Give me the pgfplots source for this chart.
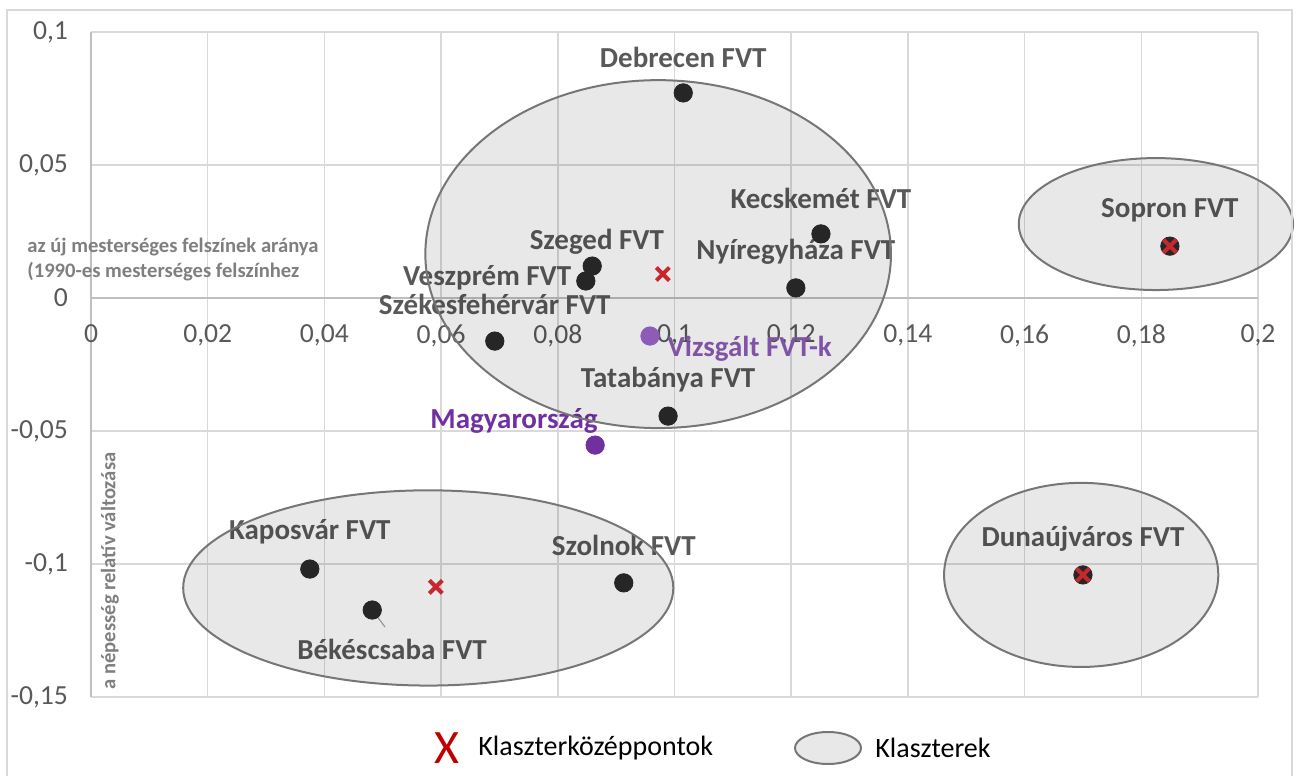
\documentclass[border=0pt]{standalone}
\usepackage{pgfplots}
\pgfplotsset{compat=1.18}
\usepackage{fontspec}
\setmainfont{Carlito}
\definecolor{gridcol}{HTML}{D9D9D9}
\definecolor{axcol}{HTML}{BFBFBF}
\definecolor{tickcol}{HTML}{595959}
\definecolor{lblcol}{HTML}{595959}
\definecolor{ptcol}{HTML}{262626}
\definecolor{redx}{HTML}{C8282D}
\definecolor{legred}{HTML}{C00000}
\definecolor{purL}{HTML}{8E5CB8}
\definecolor{purD}{HTML}{7030A0}
\definecolor{titcol}{HTML}{7F7F7F}
\definecolor{ellcol}{HTML}{767676}
\tikzset{
  lbl/.style={font=\fontsize{14.5}{17}\selectfont\bfseries, text=lblcol},
  ell/.style={draw=ellcol, line width=1pt, fill=black, fill opacity=0.09},
}
\begin{document}
\begin{tikzpicture}
\useasboundingbox (0,0) rectangle (649pt,-388pt);
\begin{axis}[
  at={(45.5pt,-348.5pt)}, anchor=south west,
  scale only axis, width=583.5pt, height=332.5pt,
  xmin=0, xmax=0.2, ymin=-0.15, ymax=0.1,
  axis lines=middle,
  axis line style={draw=axcol, line width=0.9pt, -},
  hide obscured x ticks=false, hide obscured y ticks=false,
  xtick={0,0.02,0.04,0.06,0.08,0.1,0.12,0.14,0.16,0.18,0.2},
  ytick={-0.15,-0.1,-0.05,0,0.05,0.1},
  major tick length=0pt,
  grid=major,
  grid style={draw=gridcol, line width=0.75pt},
  tick label style={font=\fontsize{13.8}{16}\selectfont, text=tickcol},
  xticklabel style={yshift=-10pt},
  yticklabel style={xshift=-8pt},
  clip=false,
  /pgf/number format/use comma,
  /pgf/number format/fixed,
  /pgf/number format/precision=2,
  /pgf/number format/assume math mode=true,
]
% cluster members (black points)
\addplot[only marks, mark=*, mark size=4.6pt, color=ptcol] coordinates {
  (0.1015,0.0771) (0.1251,0.0241) (0.1208,0.0038) (0.0859,0.0120)
  (0.0848,0.0064) (0.0692,-0.0162) (0.0989,-0.0444)
  (0.0375,-0.1019) (0.0482,-0.1173) (0.0913,-0.1071)
  (0.1849,0.0195) (0.1700,-0.1041)
};
% Vizsgalt FVT-k
\addplot[only marks, mark=*, mark size=4.6pt, color=purL] coordinates {(0.0958,-0.0143)};
% Magyarorszag
\addplot[only marks, mark=*, mark size=4.6pt, color=purD] coordinates {(0.0864,-0.0553)};
% cluster centres
\addplot[only marks, mark=x, mark size=4.6pt, draw=redx, line width=2pt] coordinates {
  (0.0980,0.0090) (0.0591,-0.1086) (0.1849,0.0195) (0.1700,-0.1041)
};
\draw[gray!70, line width=0.6pt] (axis cs:0.0482,-0.1173) -- (axis cs:0.0504,-0.1237);
% labels
\node[lbl] at (axis cs:0.1015,0.0906) {Debrecen FVT};
\node[lbl] at (axis cs:0.1251,0.0376) {Kecskemét FVT};
\node[lbl] at (axis cs:0.1208,0.0173) {Nyíregyháza FVT};
\node[lbl] at (axis cs:0.0867,0.0211) {Szeged FVT};
\node[lbl] at (axis cs:0.0679,0.0075) {Veszprém FVT};
\node[lbl] at (axis cs:0.0692,-0.0026) {Székesfehérvár FVT};
\node[lbl] at (axis cs:0.0989,-0.0308) {Tatabánya FVT};
\node[lbl, text=purL] at (axis cs:0.1129,-0.0192) {Vizsgált FVT-k};
\node[lbl, text=purD] at (axis cs:0.0725,-0.0462) {Magyarország};
\node[lbl] at (axis cs:0.0375,-0.0880) {Kaposvár FVT};
\node[lbl] at (axis cs:0.0913,-0.0932) {Szolnok FVT};
\node[lbl] at (axis cs:0.0516,-0.1323) {Békéscsaba FVT};
\node[lbl] at (axis cs:0.1849,0.0331) {Sopron FVT};
\node[lbl] at (axis cs:0.1700,-0.0906) {Dunaújváros FVT};
% clusters
\draw[ell] (axis cs:0.0972,0.0165) ellipse [x radius=0.0399, y radius=0.0654];
\draw[ell] (axis cs:0.0578,-0.1090) ellipse [x radius=0.0420, y radius=0.0367];
\draw[ell] (axis cs:0.1825,0.0278) ellipse [x radius=0.0235, y radius=0.0248];
\draw[ell] (axis cs:0.1697,-0.1041) ellipse [x radius=0.0235, y radius=0.0346];
\end{axis}
\begin{scope}[x=0.5pt, y=-0.5pt]
\draw[gridcol, line width=0.75pt] (7,800) -- (7,10) -- (1292,10) -- (1292,800);
\node[anchor=west, inner sep=0pt, font=\fontsize{10.3}{12}\selectfont\bfseries, text=titcol] at (27,247) {az új mesterséges felszínek aránya};
\node[anchor=west, inner sep=0pt, font=\fontsize{10.3}{12}\selectfont\bfseries, text=titcol] at (27,272) {(1990-es mesterséges felszínhez};
\node[rotate=90, inner sep=0pt, font=\fontsize{10.3}{12}\selectfont\bfseries, text=titcol] at (110,571) {a népesség relatív változása};
% legend
\node[text=legred, inner sep=0pt, font=\fontsize{24}{26}\selectfont] at (447,748) {X};
\node[anchor=west, inner sep=0pt, font=\fontsize{14}{16}\selectfont] at (478,748) {Klaszterközéppontok};
\draw[draw=ellcol, line width=1pt, fill=black!9] (828,748) ellipse [x radius=16.5pt, y radius=8pt];
\node[anchor=west, inner sep=0pt, font=\fontsize{14}{16}\selectfont] at (875,748) {Klaszterek};
\end{scope}
\end{tikzpicture}
\end{document}
